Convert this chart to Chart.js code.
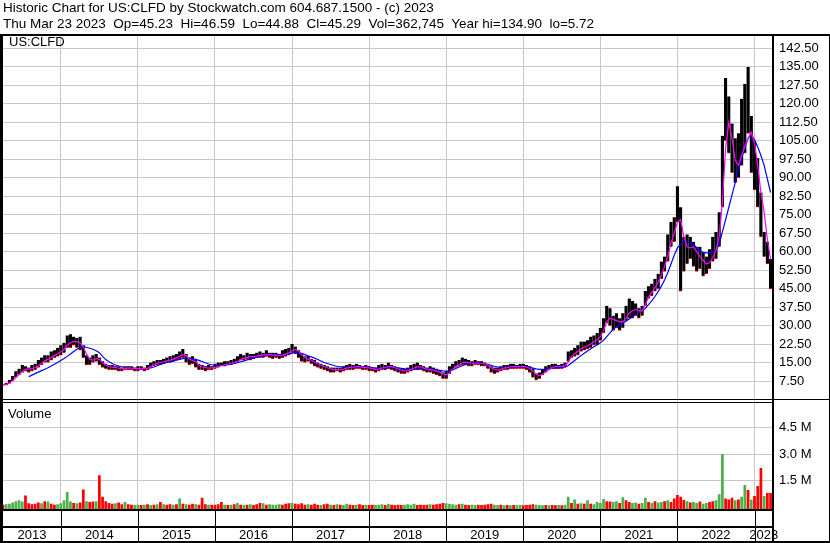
<!DOCTYPE html>
<html>
<head>
<meta charset="utf-8">
<title>Historic Chart US:CLFD</title>
<script src="https://cdn.jsdelivr.net/npm/chart.js@4.4.0/dist/chart.umd.min.js"></script>
<style>
  html, body { margin: 0; padding: 0; background: #fff; }
  #wrap { position: relative; width: 830px; height: 543px; overflow: hidden; }
  #chart { position: absolute; left: 0; top: 0; }
  .hdr {
    position: absolute; left: 3px; top: 0;
    font: 13.5px/15.5px "Liberation Sans", Arial, sans-serif;
    color: #000; white-space: pre;
  }
</style>
</head>
<body>
<div id="wrap">
  <canvas id="chart" width="830" height="543"></canvas>
  <div class="hdr">Historic Chart for US:CLFD by Stockwatch.com 604.687.1500 - (c) 2023
Thu Mar 23 2023  Op=45.23  Hi=46.59  Lo=44.88  Cl=45.29  Vol=362,745  Year hi=134.90  lo=5.72</div>
</div>
<script>
// semi-monthly samples, first one at Apr 2013
const START = 2013.25;
const PER_YEAR = 24;
const X_MIN = 2013.25;
const X_MAX = 2023.24;

const yearTicks = [2014, 2015, 2016, 2017, 2018, 2019, 2020, 2021, 2022, 2023];
const yearLabels = ['2013', '2014', '2015', '2016', '2017', '2018', '2019', '2020', '2021', '2022', '2023'];
const priceTicks = [7.5, 15, 22.5, 30, 37.5, 45, 52.5, 60, 67.5, 75, 82.5, 90, 97.5, 105, 112.5, 120, 127.5, 135, 142.5];
const volumeTicks = [1.5, 3.0, 4.5];

// low / high of each half-month
const low = [
    5.7, 5.8, 6.5, 7.5, 9, 10, 11, 11.5, 11, 11.5, 12, 13, 14, 15, 15, 16, 17, 17.5,
    18, 19, 21, 21, 22, 21, 20, 17, 14, 14, 15, 15.5, 14, 13, 12.5, 12, 12, 12, 11.5, 11.5, 12, 12, 12, 11.5,
    11.5, 12, 11.5, 12, 13, 13.5, 14, 14, 14.5, 15, 15, 15.5, 16, 16.5, 17, 15, 14, 14.5, 13, 12, 12, 11.5, 12, 12,
    12.5, 13, 13.5, 13.5, 14, 14, 14.5, 15, 16, 16, 16.5, 16, 16.5, 17, 17, 17, 17.5, 17, 16.5, 17, 16.5, 17, 17.5, 18,
    19, 18.5, 17, 15.5, 15, 15.5, 14.5, 13.5, 13, 12.5, 12, 11.5, 11, 11, 11.5, 11, 11.5, 12, 12, 12, 12.5, 12.5, 12, 12,
    11.5, 11.5, 11, 11.5, 12, 12, 12.5, 12, 11.5, 11, 10.5, 10.5, 11, 11.5, 12, 12, 12, 11.5, 11, 11, 10.5, 10, 9.5, 8.5,
    8.5, 10.5, 12, 13, 13.5, 14, 14, 13.5, 13.5, 14, 14, 13.5, 13.5, 12.5, 11, 10.5, 11, 11.5, 12, 12, 12.5, 12.5, 12.5, 12.5,
    12.5, 12, 11, 9, 7.8, 8.5, 10, 11, 12, 12.5, 12.5, 12.5, 12.5, 13, 15.5, 17, 17.5, 18, 19.5, 20, 20.5, 21, 22, 22,
    24, 27, 31, 30, 28, 29, 28, 29, 32, 33, 33, 34, 33, 34, 38, 41, 42, 44, 45, 49, 52, 56, 62, 64,
    72, 44, 52, 55, 57, 54, 52, 53, 50, 51, 53, 56, 57, 62, 78, 105, 100, 92, 88, 90, 95, 100, 108, 92,
    85, 78, 66, 58, 55, 44.9
];
const high = [
    6.3, 6.8, 8, 9.5, 11.5, 12.5, 14, 13.5, 13, 14, 14.5, 16, 17, 18, 18, 19.5, 20, 21,
    22, 23, 26, 26.5, 25.5, 25, 25.5, 22, 18, 17, 18, 18.5, 17, 15.5, 14.5, 14, 14, 13.5, 13.5, 13, 13.5, 13.5, 13.5, 13,
    13.5, 13.5, 13, 14, 15, 15.5, 16, 16, 16.5, 17, 17.5, 18, 18.5, 19.5, 20.5, 18.5, 17, 17.5, 16, 14.5, 14, 13.5, 14, 13.5,
    14.5, 15, 15, 15.5, 15.5, 16, 16.5, 17.5, 18.5, 18, 19, 18.5, 18.5, 19, 19.5, 19, 20, 19, 19, 19, 18.5, 20, 20.5, 21,
    22.5, 21.5, 20, 18.5, 17.5, 17.5, 16.5, 16, 15, 14.5, 14, 13.5, 13, 13, 13, 13, 13.5, 14, 14.5, 14, 14.5, 14, 13.5, 14,
    13.5, 13, 13, 14, 14.5, 14, 15, 14, 13.5, 13, 12.5, 12.5, 13, 14, 14.5, 15, 14, 13.5, 13, 13.5, 13, 12.5, 12, 11,
    11.5, 13.5, 14.5, 15.5, 16, 17, 16.5, 16, 15.5, 16, 15.5, 15.5, 15, 14.5, 13.5, 13, 13, 13.5, 14, 14, 14.5, 14.5, 14, 14.5,
    14.5, 14, 13.5, 12.5, 10.5, 11, 12, 13.5, 14, 14.5, 14.5, 14, 14.5, 15, 19.5, 20, 21, 22, 23.5, 23.5, 24, 25.5, 26, 27,
    29, 33, 38, 37, 34, 35, 33, 35, 38, 41, 40, 39, 37, 38, 44, 46, 47, 49, 51, 56, 58, 67, 72, 74,
    86.5, 78, 66, 67, 66, 64, 62, 62, 60, 58, 61, 66, 68, 76, 107, 130.5, 123, 112, 106, 108, 122, 128, 134.9, 115,
    105, 98, 84, 68, 64, 57
];
// short moving average (magenta)
const maShort = [
    6.0, 6.1, 6.7, 7.6, 8.9, 10.2, 11.4, 12.2, 12.4, 12.5, 12.9, 13.7, 14.7, 15.7, 16.3, 17.0, 17.8, 18.6,
    19.4, 20.3, 22.0, 23.0, 23.6, 23.5, 23.0, 21.3, 18.5, 16.3, 16.0, 16.6, 16.3, 15.0, 14.0, 13.4, 13.1, 12.9, 12.7, 12.5, 12.6, 12.7, 12.7, 12.5,
    12.5, 12.6, 12.5, 12.6, 13.3, 14.1, 14.7, 15.0, 15.3, 15.7, 16.0, 16.4, 16.9, 17.5, 18.2, 17.8, 16.3, 15.8, 15.3, 14.0, 13.2, 12.9, 12.7, 12.8,
    12.9, 13.3, 13.8, 14.1, 14.4, 14.7, 15.0, 15.5, 16.2, 16.8, 17.1, 17.4, 17.4, 17.6, 17.9, 18.1, 18.2, 18.3, 18.0, 17.9, 17.8, 17.9, 18.4, 19.0,
    19.8, 20.3, 19.6, 18.2, 17.0, 16.4, 16.0, 15.2, 14.5, 13.9, 13.4, 12.9, 12.4, 12.1, 12.1, 12.1, 12.3, 12.7, 13.0, 13.1, 13.3, 13.3, 13.0, 12.9,
    12.8, 12.5, 12.2, 12.3, 12.8, 13.1, 13.3, 13.3, 12.9, 12.4, 11.9, 11.6, 11.7, 12.2, 12.8, 13.2, 13.2, 12.8, 12.3, 12.1, 11.9, 11.5, 11.0, 10.3,
    10.0, 10.8, 12.2, 13.4, 14.2, 14.9, 15.2, 15.0, 14.7, 14.7, 14.8, 14.6, 14.4, 13.9, 13.0, 12.2, 11.9, 12.2, 12.7, 12.9, 13.2, 13.4, 13.3, 13.3,
    13.4, 13.2, 12.6, 11.6, 10.3, 9.6, 10.2, 11.3, 12.3, 13.0, 13.4, 13.4, 13.4, 13.7, 15.2, 17.4, 18.6, 19.5, 20.6, 21.3, 21.8, 22.5, 23.4, 24.2,
    25.5, 28.0, 31.5, 33.0, 32.5, 32.0, 31.5, 31.5, 33.0, 35.0, 36.0, 36.5, 36.0, 36.0, 38.5, 41.5, 43.5, 45.5, 47.5, 50.5, 54.0, 58.0, 63.5, 67.5,
    72.0, 73.0, 66.0, 62.0, 61.5, 62.0, 60.0, 58.0, 56.5, 55.0, 55.5, 57.5, 60.5, 66.0, 80.0, 102.0, 112.5, 106.0, 97.0, 95.0, 99.0, 103.0, 106.0, 108.5,
    104.0, 95.0, 84.0, 76.0, 65.0, 57.0
];
// long moving average (blue)
const maLong = [
    null, null, null, null, null, null, null, null, 9.2, 9.9, 10.5, 11.1, 11.7, 12.3, 12.9, 13.6, 14.3, 15.0,
    15.8, 16.6, 17.5, 18.5, 19.5, 20.4, 21.0, 21.3, 21.2, 20.8, 20.4, 19.8, 19.0, 17.5, 16.2, 15.3, 14.6, 14.0, 13.6, 13.3, 13.0, 12.8, 12.7, 12.6,
    12.5, 12.5, 12.5, 12.6, 12.8, 13.2, 13.7, 14.2, 14.6, 15.0, 15.3, 15.6, 16.0, 16.3, 16.6, 16.9, 16.8, 16.6, 16.3, 15.9, 15.4, 14.9, 14.4, 14.1,
    13.9, 13.8, 13.8, 13.9, 14.1, 14.3, 14.6, 14.9, 15.3, 15.7, 16.1, 16.5, 16.8, 17.1, 17.4, 17.6, 17.8, 18.0, 18.1, 18.2, 18.2, 18.2, 18.3, 18.5,
    18.8, 19.0, 19.0, 18.7, 18.2, 17.7, 17.3, 16.8, 16.2, 15.6, 15.0, 14.6, 14.2, 13.8, 13.5, 13.3, 13.1, 13.0, 13.0, 13.0, 13.1, 13.2, 13.2, 13.1,
    13.0, 12.9, 12.7, 12.6, 12.6, 12.7, 12.8, 12.9, 12.9, 12.8, 12.6, 12.4, 12.2, 12.1, 12.2, 12.4, 12.6, 12.6, 12.5, 12.4, 12.2, 12.0, 11.8, 11.6,
    11.5, 11.6, 12.0, 12.6, 13.2, 13.7, 14.2, 14.5, 14.7, 14.8, 14.8, 14.7, 14.5, 14.2, 13.9, 13.5, 13.2, 12.9, 12.8, 12.8, 12.9, 13.1, 13.2, 13.3,
    13.3, 13.2, 13.0, 12.7, 12.4, 12.2, 12.2, 12.3, 12.5, 12.7, 12.8, 12.9, 13.0, 13.2, 13.8, 14.8, 15.8, 16.8, 17.8, 18.8, 19.7, 20.6, 21.4, 22.2,
    23.0, 24.0, 25.5, 27.0, 28.5, 29.5, 30.3, 31.0, 31.8, 32.7, 33.6, 34.5, 35.2, 35.8, 37.0, 38.5, 40.0, 41.8, 43.8, 46.0, 48.5, 51.5, 55.0, 58.5,
    61.5, 63.0, 64.0, 64.5, 64.0, 63.0, 61.5, 60.5, 59.5, 59.5, 59.5, 60.0, 60.5, 63.0, 68.0, 73.0, 78.0, 83.0, 88.0, 93.0, 98.0, 102.0, 106.0, 107.5,
    105.5, 102.5, 99.0, 95.0, 89.5, 84.0
];
// volume in millions of shares, 1 = up period (green), 0 = down (red)
const volume = [
    0.10, 0.12, 0.15, 0.22, 0.30, 0.35, 0.28, 0.63, 0.18, 0.12, 0.15, 0.22, 0.18, 0.30, 0.28, 0.15, 0.10, 0.12,
    0.18, 0.35, 0.82, 0.28, 0.20, 0.18, 0.22, 0.97, 0.30, 0.25, 0.28, 0.30, 1.79, 0.55, 0.30, 0.20, 0.15, 0.18, 0.22, 0.12, 0.25, 0.12, 0.10, 0.08,
    0.10, 0.08, 0.10, 0.12, 0.08, 0.10, 0.12, 0.25, 0.12, 0.10, 0.12, 0.10, 0.12, 0.45, 0.15, 0.12, 0.10, 0.15, 0.12, 0.10, 0.50, 0.12, 0.10, 0.08,
    0.10, 0.12, 0.25, 0.10, 0.08, 0.10, 0.12, 0.20, 0.10, 0.08, 0.10, 0.12, 0.08, 0.12, 0.20, 0.18, 0.10, 0.12, 0.10, 0.10, 0.12, 0.10, 0.15, 0.18,
    0.20, 0.15, 0.12, 0.18, 0.10, 0.12, 0.10, 0.15, 0.10, 0.08, 0.12, 0.15, 0.10, 0.08, 0.12, 0.10, 0.08, 0.15, 0.10, 0.08, 0.10, 0.12, 0.08, 0.10,
    0.08, 0.10, 0.08, 0.10, 0.12, 0.08, 0.15, 0.10, 0.08, 0.10, 0.08, 0.10, 0.12, 0.10, 0.15, 0.08, 0.10, 0.08, 0.10, 0.12, 0.10, 0.12, 0.15, 0.20,
    0.18, 0.15, 0.12, 0.10, 0.12, 0.15, 0.10, 0.08, 0.10, 0.08, 0.10, 0.08, 0.10, 0.12, 0.15, 0.10, 0.08, 0.10, 0.06, 0.08, 0.06, 0.08, 0.06, 0.08,
    0.06, 0.08, 0.10, 0.12, 0.10, 0.08, 0.06, 0.08, 0.06, 0.08, 0.06, 0.08, 0.06, 0.10, 0.55, 0.20, 0.40, 0.15, 0.18, 0.15, 0.35, 0.15, 0.12, 0.25,
    0.20, 0.42, 0.30, 0.28, 0.25, 0.30, 0.20, 0.53, 0.35, 0.25, 0.20, 0.22, 0.15, 0.20, 0.50, 0.25, 0.20, 0.30, 0.22, 0.25, 0.30, 0.35, 0.25, 0.45,
    0.65, 0.55, 0.37, 0.30, 0.22, 0.25, 0.20, 0.28, 0.15, 0.20, 0.25, 0.30, 0.35, 0.70, 3.00, 0.45, 0.40, 0.50, 0.35, 0.40, 0.55, 1.23, 0.94, 0.40,
    0.60, 1.17, 2.20, 0.60, 0.77, 0.77
];
const volumeUp = [
    0, 1, 1, 1, 1, 1, 1, 0, 0, 0, 0, 0, 1, 0, 1, 0, 0, 1,
    1, 1, 1, 1, 0, 1, 0, 0, 1, 0, 0, 1, 0, 0, 0, 0, 0, 1, 0, 0, 1, 0, 0, 1,
    1, 0, 1, 0, 1, 0, 1, 0, 1, 0, 0, 1, 0, 1, 0, 1, 0, 0, 1, 0, 0, 0, 1, 0,
    0, 0, 0, 1, 0, 1, 0, 1, 0, 1, 0, 1, 0, 0, 0, 1, 0, 1, 1, 1, 1, 0, 0, 0,
    1, 0, 0, 0, 0, 1, 0, 0, 0, 1, 0, 0, 1, 0, 1, 0, 1, 1, 0, 0, 1, 0, 0, 1,
    0, 0, 1, 1, 1, 0, 1, 0, 0, 0, 0, 1, 1, 1, 1, 0, 0, 0, 0, 1, 0, 0, 0, 0,
    1, 1, 1, 1, 0, 1, 0, 0, 1, 1, 0, 0, 0, 0, 0, 1, 1, 0, 1, 0, 1, 0, 1, 1,
    0, 0, 0, 0, 1, 1, 1, 0, 1, 0, 0, 1, 0, 1, 1, 0, 1, 0, 1, 0, 1, 0, 1, 1,
    1, 1, 0, 0, 1, 1, 0, 1, 0, 0, 1, 1, 0, 1, 1, 0, 1, 0, 1, 1, 0, 1, 0, 0,
    0, 0, 0, 1, 0, 1, 1, 0, 1, 1, 0, 0, 1, 1, 1, 0, 0, 0, 1, 0, 1, 1, 0, 1,
    0, 0, 0, 1, 0, 0
];

const FONT = '"Liberation Sans", Arial, sans-serif';
const GRID = '#c8c8c8';
const RED = '#ff0000';
const GREEN = '#4cb04c';
const VOL_MIN = -0.15;

const dates = low.map((_, i) => START + i / PER_YEAR);

// frame lines, year strip and panel captions, the way stockwatch draws them
const framePlugin = {
    id: 'frame',
    afterDraw(chart) {
        const { ctx, chartArea: a, scales } = chart;
        const W = chart.width;
        const H = chart.height;
        const x = scales.x;
        ctx.save();
        ctx.fillStyle = '#000';
        ctx.font = '13px ' + FONT;
        ctx.textBaseline = 'alphabetic';

        ctx.textAlign = 'left';
        ctx.fillText('US:CLFD', a.left + 6, a.top + 10);
        ctx.fillText('Volume', a.left + 5, scales.yv.top + 18);

        // year labels centred in their visible span
        ctx.textAlign = 'center';
        const bounds = [x.min, ...yearTicks, x.max];
        yearLabels.forEach((label, k) => {
            const cx = (x.getPixelForValue(bounds[k]) + x.getPixelForValue(bounds[k + 1])) / 2;
            ctx.fillText(label, cx, H - 4);
        });

        const sep = Math.floor(scales.y.bottom);
        ctx.fillRect(0, a.top - 2, W, 2);
        ctx.fillRect(0, a.top - 2, a.left, H);
        ctx.fillRect(a.right - 1, a.top - 2, 2, H);
        ctx.fillRect(W - 1, a.top - 2, 1, H);
        ctx.fillRect(0, sep, W, 1);
        ctx.fillRect(0, sep + 3, a.right, 1);
        ctx.fillRect(0, a.bottom, a.right, 2);
        ctx.fillRect(0, a.bottom + 17, a.right, 2);
        ctx.fillRect(0, H - 2, W, 2);
        yearTicks.forEach(v => {
            ctx.fillRect(Math.round(x.getPixelForValue(v)), a.bottom, 1, H - a.bottom);
        });
        ctx.restore();
    }
};

function buildChart() {
    const ctx = document.getElementById('chart');
    new Chart(ctx, {
        type: 'line',
        data: {
            datasets: [{
                type: 'bar',
                order: 4,
                yAxisID: 'yv',
                data: dates.map((d, i) => ({ x: d, y: volume[i] })),
                backgroundColor: volumeUp.map(u => u ? GREEN : RED),
                base: VOL_MIN,
                grouped: false,
                barPercentage: 0.85,
                categoryPercentage: 1
            }, {
                type: 'bar',
                order: 3,
                yAxisID: 'y',
                data: dates.map((d, i) => ({ x: d, y: [low[i], high[i]] })),
                backgroundColor: '#000',
                borderColor: RED,
                borderWidth: { top: 0, right: 0, bottom: 1, left: 0 },
                borderSkipped: false,
                grouped: false,
                barPercentage: 1,
                categoryPercentage: 1
            }, {
                type: 'line',
                order: 2,
                yAxisID: 'y',
                data: dates.map((d, i) => ({ x: d, y: maLong[i] })),
                borderColor: '#0000ff',
                borderWidth: 1.2,
                pointRadius: 0,
                tension: 0
            }, {
                type: 'line',
                order: 1,
                yAxisID: 'y',
                data: dates.map((d, i) => ({ x: d, y: maShort[i] })),
                borderColor: '#ff00ff',
                borderWidth: 1.2,
                pointRadius: 0,
                tension: 0
            }]
        },
        options: {
            responsive: false,
            animation: false,
            devicePixelRatio: 1,
            events: [],
            layout: { padding: { left: 3, top: 36, right: 0, bottom: 0 } },
            plugins: { legend: { display: false }, tooltip: { enabled: false } },
            scales: {
                x: {
                    type: 'linear',
                    min: X_MIN,
                    max: X_MAX,
                    offset: false,
                    afterBuildTicks: s => { s.ticks = yearTicks.map(v => ({ value: v })); },
                    afterFit: s => { s.height = 34; },
                    ticks: { display: false },
                    grid: { color: GRID, drawTicks: false, offset: false },
                    border: { display: false }
                },
                y: {
                    type: 'linear',
                    position: 'right',
                    stack: 'right',
                    stackWeight: 363.5,
                    min: 0,
                    max: 147.5,
                    afterBuildTicks: s => { s.ticks = priceTicks.map(v => ({ value: v })); },
                    afterFit: s => { s.width = 57; },
                    ticks: {
                        autoSkip: false,
                        padding: 6,
                        color: '#000',
                        font: { family: FONT, size: 13 },
                        callback: v => v.toFixed(2)
                    },
                    grid: { color: GRID, drawTicks: false },
                    border: { display: false }
                },
                yv: {
                    type: 'linear',
                    position: 'right',
                    stack: 'right',
                    stackWeight: 109.5,
                    min: VOL_MIN,
                    max: 6.13,
                    afterBuildTicks: s => { s.ticks = volumeTicks.map(v => ({ value: v })); },
                    afterFit: s => { s.width = 57; },
                    ticks: {
                        autoSkip: false,
                        padding: 6,
                        color: '#000',
                        font: { family: FONT, size: 13 },
                        callback: v => v.toFixed(1) + ' M'
                    },
                    grid: { color: GRID, drawTicks: false },
                    border: { display: false }
                }
            }
        },
        plugins: [framePlugin]
    });
}

document.addEventListener('DOMContentLoaded', buildChart);
</script>
</body>
</html>
